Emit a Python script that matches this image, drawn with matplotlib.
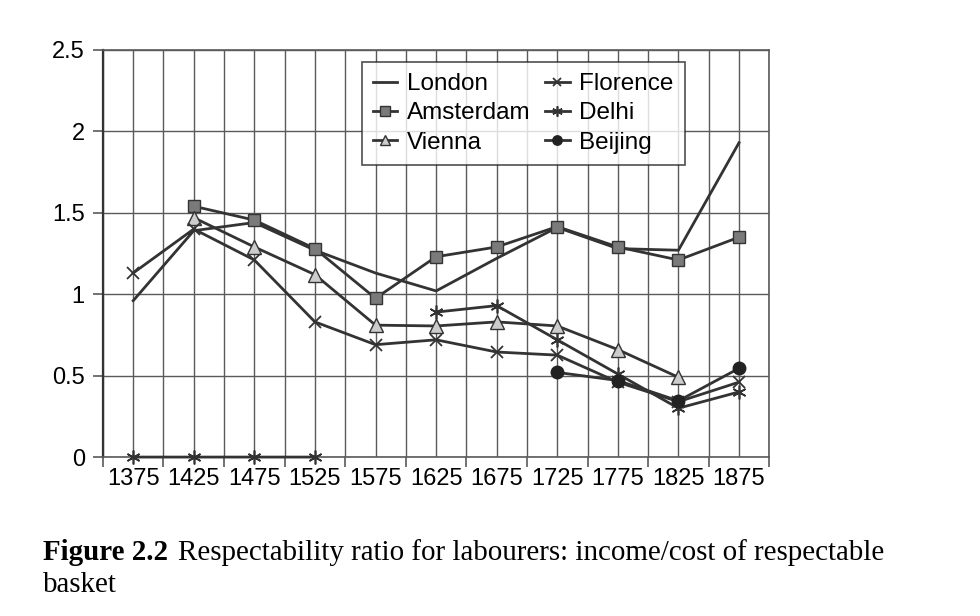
import numpy as np
import matplotlib
matplotlib.use("Agg")
import matplotlib.pyplot as plt

nan = np.nan

# Data (respectability ratio, income/cost of basket)
years = [1375, 1425, 1475, 1525, 1575, 1625, 1675, 1725, 1775, 1825, 1875]
london = [0.96, 1.39, 1.44, 1.27, 1.13, 1.02, 1.22, 1.41, 1.28, 1.27, 1.93]
amsterdam = [nan, 1.54, 1.455, 1.28, 0.975, 1.23, 1.29, 1.415, 1.29, 1.21, 1.35]
vienna = [nan, 1.47, 1.29, 1.12, 0.81, 0.805, 0.83, 0.805, 0.66, 0.49, nan]
florence = [1.13, 1.40, 1.21, 0.83, 0.69, 0.72, 0.645, 0.626, 0.46, 0.34, 0.46]
delhi = [0, 0, 0, 0, nan, 0.89, 0.93, 0.72, 0.51, 0.30, 0.40]
beijing = [nan, nan, nan, nan, nan, nan, nan, 0.52, 0.47, 0.345, 0.545]

y_ticks = [0, 0.5, 1, 1.5, 2, 2.5]
y_labels = ["0", "0.5", "1", "1.5", "2", "2.5"]

caption_bold = "Figure 2.2"
caption_rest = "Respectability ratio for labourers: income/cost of respectable"
caption_line2 = "basket"

line_col = "#333333"
grid_col = "#5a5a5a"

plt.rcParams['font.family'] = ['Liberation Sans', 'DejaVu Sans']

fig = plt.figure(figsize=(9.8, 6.16), dpi=100)
ax = fig.add_axes([0.105, 0.258, 0.68, 0.661])

x = np.arange(len(years))
lw = 2.0

ax.plot(x, london, color=line_col, lw=lw, label="London", zorder=3)
ax.plot(x, amsterdam, color=line_col, lw=lw, marker='s', markersize=9,
        markerfacecolor='#7a7a7a', markeredgecolor='#333333', markeredgewidth=1,
        label="Amsterdam", zorder=4)
ax.plot(x, vienna, color=line_col, lw=lw, marker='^', markersize=10,
        markerfacecolor='#cccccc', markeredgecolor='#333333', markeredgewidth=1,
        label="Vienna", zorder=4)
ax.plot(x, florence, color=line_col, lw=lw, marker='x', markersize=8,
        markeredgewidth=1.3, label="Florence", zorder=4)
ax.plot(x, delhi, color=line_col, lw=lw, marker=(6, 2, 0), markersize=10,
        markeredgewidth=1.2, label="Delhi", zorder=4, clip_on=False)
ax.plot(x, beijing, color=line_col, lw=lw, marker='o', markersize=9,
        markerfacecolor='#222222', markeredgecolor='#222222',
        label="Beijing", zorder=5)

# category axis: labels at centres, tick marks at boundaries
ax.set_xlim(-0.5, len(years) - 0.5)
ax.set_xticks(x)
ax.set_xticklabels([str(y) for y in years], fontsize=17)
ax.set_xticks(np.arange(-0.5, len(years)), minor=True)
ax.tick_params(axis='x', which='major', length=0, pad=8)
ax.tick_params(axis='x', which='minor', length=7, width=1.2, color=grid_col, direction='out')

ax.set_ylim(0, 2.5)
ax.set_yticks(y_ticks)
ax.set_yticklabels(y_labels, fontsize=17)
ax.tick_params(axis='y', length=7, width=1.2, color=grid_col, direction='out', pad=6)

ax.grid(True, which='both', axis='x', color=grid_col, lw=1.0)
ax.grid(True, which='major', axis='y', color=grid_col, lw=1.0)
ax.set_axisbelow(True)
for s in ax.spines.values():
    s.set_color(grid_col)
    s.set_linewidth(1.2)
ax.spines['left'].set_color('#333333')
ax.spines['left'].set_linewidth(1.6)

leg = ax.legend(ncol=2, loc='upper left', bbox_to_anchor=(0.389, 0.97),
                borderaxespad=0, fontsize=17.5, frameon=True, fancybox=False,
                edgecolor='#222222', handlelength=1.0, handletextpad=0.4,
                columnspacing=0.6, labelspacing=0.3, borderpad=0.45,
                markerscale=0.75)
leg.get_frame().set_linewidth(1.2)

# caption below the chart, regular part placed right after the bold part
cap_size = 20.9
t1 = fig.text(0.044, 0.0909, caption_bold, fontsize=cap_size, family='Liberation Serif',
              fontweight='bold', va='baseline')
renderer = fig.canvas.get_renderer()
bb = t1.get_window_extent(renderer=renderer)
x_rest = (bb.x1 + 10) / fig.bbox.width
fig.text(x_rest, 0.0909, caption_rest, fontsize=cap_size, family='Liberation Serif',
         va='baseline')
fig.text(0.044, 0.039, caption_line2, fontsize=cap_size, family='Liberation Serif',
         va='baseline')

fig.savefig("out.png", dpi=100, facecolor='white')
